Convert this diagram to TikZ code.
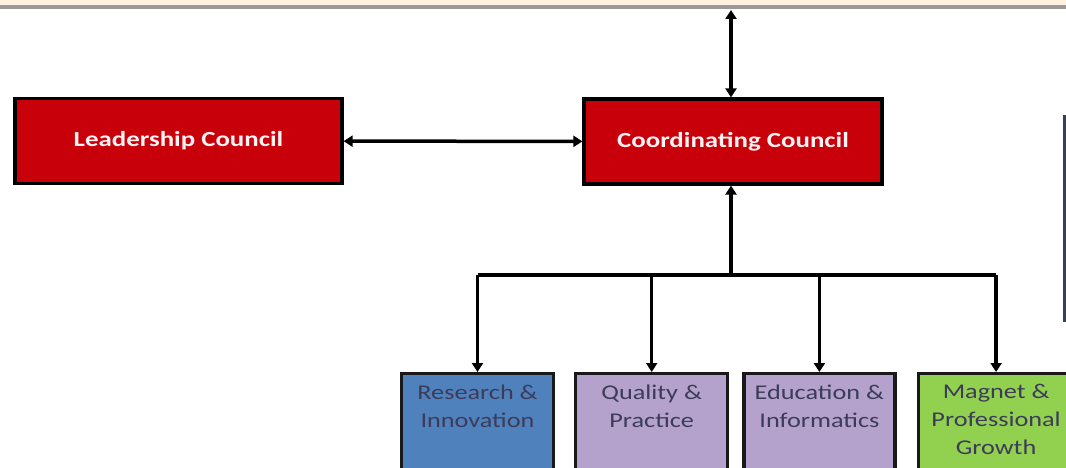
\documentclass[tikz,border=0pt]{standalone}
\usepackage{fontspec}
\setmainfont{Carlito}[FakeStretch=1.25]
\usetikzlibrary{positioning,arrows.meta}
\definecolor{consejo}{RGB}{200,0,10}
\definecolor{azul}{RGB}{79,129,189}
\definecolor{lila}{RGB}{180,162,204}
\definecolor{verde}{RGB}{146,208,80}
\definecolor{tinta}{RGB}{60,60,90}
\definecolor{borde}{RGB}{55,65,85}
\tikzset{
	council/.style={rectangle, draw=black, line width=3.2pt, fill=consejo,
		text=red!5, font=\bfseries\fontsize{21.5}{25}\selectfont,
		minimum height=85pt, text centered},
	area/.style={rectangle, draw=black!90, line width=3.2pt, anchor=north,
		text=tinta, font=\fontsize{21}{28}\selectfont, align=center,
		minimum width=152pt, inner xsep=2pt, inner ysep=11pt, text depth=80pt},
	link/.style={line width=3.5pt, black},
	tip/.style={-{Triangle[length=9pt,width=11pt]}},
	both/.style={{Triangle[length=9pt,width=11pt]}-{Triangle[length=9pt,width=11pt]}}
}
\begin{document}
\begin{tikzpicture}[x=1pt,y=1pt]
	\clip (0,0) rectangle (1066,-468);
	\fill[white] (0,0) rectangle (1066,-468);
	% top band
	\fill[orange!12] (0,0) rectangle (1066,-5);
	\fill[black!40] (0,-5) rectangle (1066,-9);
	
	\node[council, minimum width=298pt] (coord) at (733,-141.5) {Coordinating Council};
	\node[council, minimum width=327pt] (lead) at (178.5,-141) {Leadership Council};
	
	\node[area, fill=azul] (r1) at (477.5,-372) {Research \&\\Innovation};
	\node[area, fill=lila, right=19pt of r1.north east, anchor=north west] (q1) {Quality \&\\Practice};
	\node[area, fill=lila, minimum width=151pt, right=13pt of q1.north east, anchor=north west] (e1) {Education \&\\Informatics};
	\node[area, fill=verde, minimum width=156pt, right=20pt of e1.north east, anchor=north west] (m1) {Magnet \&\\Professional\\Growth};
	
	% box at the right edge
	\draw[line width=3pt, draw=borde] (1064.5,-117) rectangle (1120,-320);
	
	\coordinate (bus) at (731,-275);
	\coordinate (top) at (731,-10);
	
	\draw[link, both] (lead) -- (coord);
	\draw[link, both] (bus |- coord.north) -- (top);
	\draw[link, tip] (bus) -- (bus |- coord.south);
	\draw[link] (bus -| r1.north) -- (bus -| m1.north);
	\foreach \b in {r1,q1,e1,m1}
		\draw[link, tip] (bus -| \b.north) -- (\b.north);
\end{tikzpicture}
\end{document}
